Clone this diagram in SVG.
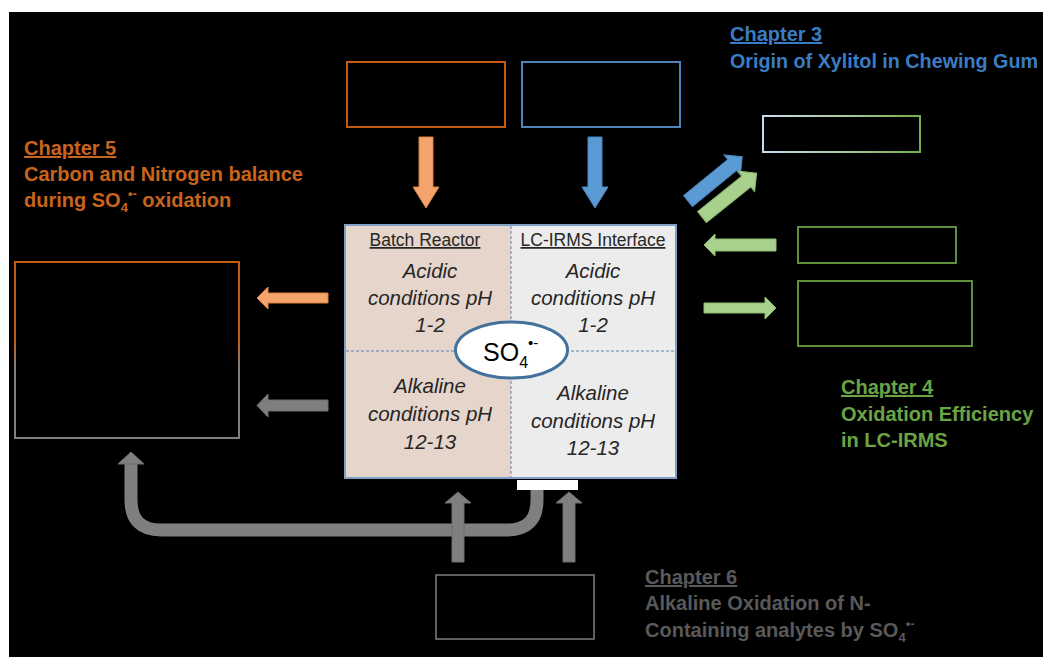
<svg xmlns="http://www.w3.org/2000/svg" width="1043" height="657" viewBox="0 0 1043 657">
<style>
.ch{font-family:"Liberation Sans",Arial,sans-serif;font-weight:bold;font-size:20px}
.u{text-decoration:underline}
.hd{font-family:"Liberation Sans",Arial,sans-serif;font-size:17.5px;fill:#262626;text-anchor:middle}
.it{font-family:"Liberation Sans",Arial,sans-serif;font-style:italic;font-size:20.5px;fill:#262626;text-anchor:middle}
.box{fill:none;stroke-width:2}
.ar-o{fill:#f4a46c;stroke:#d9803f;stroke-width:1}
.ar-b{fill:#5b9bd5;stroke:#4a86c0;stroke-width:1}
.ar-g{fill:#a9d18e;stroke:#8fbd70;stroke-width:1}
.ar-k{fill:#7f7f7f;stroke:#6f6f6f;stroke-width:1}
.dash{stroke:#5b82b0;stroke-width:1;stroke-dasharray:3 2;fill:none}
</style>
<defs>
<linearGradient id="gLeft" x1="0" y1="0" x2="0" y2="1">
<stop offset="0" stop-color="#c55a11"/>
<stop offset="0.45" stop-color="#c55a11"/>
<stop offset="0.6" stop-color="#7f7f7f"/>
<stop offset="1" stop-color="#7f7f7f"/>
</linearGradient>
<linearGradient id="gCh3" x1="0" y1="0" x2="1" y2="0">
<stop offset="0" stop-color="#c6dcf0"/>
<stop offset="0.5" stop-color="#a9c9a0"/>
<stop offset="1" stop-color="#70ad47"/>
</linearGradient>
</defs>
<rect x="0" y="0" width="1043" height="657" fill="#ffffff"/>
<rect x="9" y="12" width="1034" height="645" fill="#000000"/>

<g id="center-box">
<rect x="345" y="225" width="166" height="253" fill="#e5d5cb"/>
<rect x="511" y="225" width="165" height="253" fill="#ececec"/>
<rect x="345" y="225" width="331" height="253" fill="none" stroke="#7f9fc4" stroke-width="2"/>
<line class="dash" x1="511" y1="226" x2="511" y2="477"/>
<line class="dash" x1="346" y1="351" x2="675" y2="351"/>
<text class="hd u" x="425" y="246">Batch Reactor</text>
<text class="hd u" x="593" y="246">LC-IRMS Interface</text>
<text class="it" x="430" y="278">Acidic</text>
<text class="it" x="430" y="305">conditions pH</text>
<text class="it" x="430" y="332">1-2</text>
<text class="it" x="593" y="278">Acidic</text>
<text class="it" x="593" y="305">conditions pH</text>
<text class="it" x="593" y="332">1-2</text>
<text class="it" x="430" y="393">Alkaline</text>
<text class="it" x="430" y="421">conditions pH</text>
<text class="it" x="430" y="449">12-13</text>
<text class="it" x="593" y="400">Alkaline</text>
<text class="it" x="593" y="428">conditions pH</text>
<text class="it" x="593" y="455">12-13</text>
<rect x="517" y="480" width="61" height="10" fill="#ffffff"/>
</g>

<g id="so4">
<ellipse cx="511.5" cy="350" rx="56" ry="28" fill="#ffffff" stroke="#41719c" stroke-width="3"/>
<text x="483" y="361" font-family="Liberation Sans,Arial,sans-serif" font-size="25" fill="#000">SO<tspan font-size="16" dy="7">4</tspan><tspan font-size="15" dy="-20">•-</tspan></text>
</g>

<g id="box-top-orange"><rect class="box" x="347" y="62" width="158" height="65" stroke="#c55a11"/></g>
<g id="box-top-blue"><rect class="box" x="522" y="62" width="158" height="65" stroke="#4f81bd"/></g>
<g id="box-left"><rect class="box" x="15" y="262" width="224" height="176" stroke="url(#gLeft)"/></g>
<g id="box-ch3"><rect class="box" x="763" y="116" width="157" height="36" stroke="url(#gCh3)"/></g>
<g id="box-green-1"><rect class="box" x="798" y="227" width="158" height="36" stroke="#5e8f3c"/></g>
<g id="box-green-2"><rect class="box" x="798" y="281" width="174" height="65" stroke="#5e8f3c"/></g>
<g id="box-bottom"><rect x="436" y="575" width="158" height="64" fill="none" stroke="#7f7f7f" stroke-width="1.5"/></g>

<g id="label-ch5">
<text class="ch u" x="24" y="155" fill="#c8641c">Chapter 5</text>
<text class="ch" x="24" y="181" fill="#c8641c">Carbon and Nitrogen balance</text>
<text class="ch" x="24" y="207" fill="#c8641c">during SO<tspan font-size="13" dy="5">4</tspan><tspan font-size="13" dy="-14">•-</tspan><tspan dy="9"> oxidation</tspan></text>
</g>
<g id="label-ch3">
<text class="ch u" x="730" y="41" fill="#3a7cc3">Chapter 3</text>
<text class="ch" x="730" y="68" fill="#3a7cc3" textLength="308" lengthAdjust="spacingAndGlyphs">Origin of Xylitol in Chewing Gum</text>
</g>
<g id="label-ch4">
<text class="ch u" x="841" y="394" fill="#6aa444">Chapter 4</text>
<text class="ch" x="841" y="421" fill="#6aa444">Oxidation Efficiency</text>
<text class="ch" x="841" y="447" fill="#6aa444">in LC-IRMS</text>
</g>
<g id="label-ch6">
<text class="ch u" x="645" y="584" fill="#595959">Chapter 6</text>
<text class="ch" x="645" y="610" fill="#595959">Alkaline Oxidation of N-</text>
<text class="ch" x="645" y="637" fill="#595959">Containing analytes by SO<tspan font-size="13" dy="5">4</tspan><tspan font-size="13" dy="-14">•-</tspan></text>
</g>

<g id="connectors">
<polygon class="ar-o" points="419,137 433,137 433,187 439,187 426,208 413,187 419,187"/>
<polygon class="ar-b" points="588,137 602,137 602,187 608,187 595,208 582,187 588,187"/>
<polygon class="ar-o" points="328,293 268,293 268,287 257,298 268,309 268,303 328,303"/>
<polygon class="ar-k" points="328,400 268,400 268,394 257,405.5 268,417 268,411 328,411"/>
<polygon class="ar-g" points="776,239 715,239 715,234 704,245 715,256 715,251 776,251"/>
<polygon class="ar-g" points="704,303 765,303 765,297 776,308 765,319 765,313 704,313"/>
<polygon class="ar-b" transform="translate(688,201) rotate(-39.2)" points="0,-7 57,-7 57,-13 70,0 57,13 57,7 0,7"/>
<polygon class="ar-g" transform="translate(702,217) rotate(-38.7)" points="0,-7 57,-7 57,-13 70,0 57,13 57,7 0,7"/>
<path d="M537,490 L537,500 Q537,530 507,530 L161,530 Q131,530 131,500 L131,463" fill="none" stroke="#7f7f7f" stroke-width="13"/>
<polygon class="ar-k" points="118,464 131,452 144,464"/>
<polygon class="ar-k" points="452,562 464,562 464,503 471,503 458,492 445,503 452,503"/>
<polygon class="ar-k" points="563,562 575,562 575,503 582,503 569,492 556,503 563,503"/>
</g>
</svg>
